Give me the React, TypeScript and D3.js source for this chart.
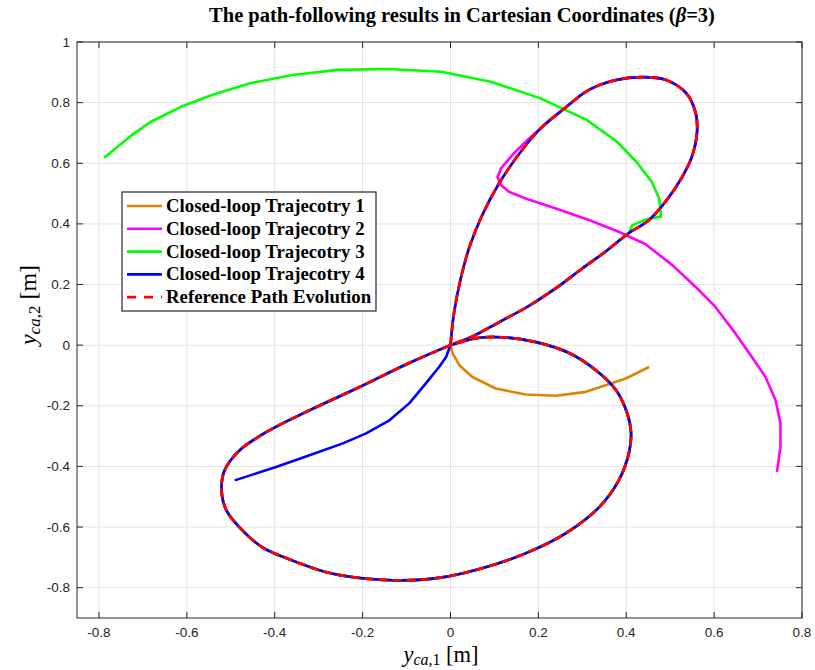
import React from "react";
import * as d3 from "d3";

// reference path (closed, starts at the origin going up the steep branch)
const refPath: [number, number][] = [
  [0, 0], [0.008, 0.106], [0.024, 0.224], [0.043, 0.323], [0.07, 0.422],
  [0.111, 0.535], [0.163, 0.644], [0.208, 0.719], [0.263, 0.785], [0.315, 0.842],
  [0.377, 0.875], [0.436, 0.884], [0.49, 0.875], [0.536, 0.832], [0.558, 0.766],
  [0.561, 0.7], [0.549, 0.62], [0.527, 0.554], [0.497, 0.488], [0.452, 0.413],
  [0.406, 0.37], [0.354, 0.31], [0.299, 0.252], [0.24, 0.188], [0.179, 0.13],
  [0.111, 0.076], [0.049, 0.028], [0, 0], [-0.094, -0.059], [-0.208, -0.139],
  [-0.321, -0.215], [-0.412, -0.281], [-0.48, -0.347], [-0.514, -0.413], [-0.521, -0.479],
  [-0.51, -0.545], [-0.48, -0.601], [-0.428, -0.667], [-0.36, -0.71], [-0.282, -0.749],
  [-0.201, -0.769], [-0.11, -0.776], [-0.019, -0.766], [0.072, -0.736], [0.172, -0.686],
  [0.263, -0.62], [0.338, -0.535], [0.383, -0.446], [0.406, -0.356], [0.411, -0.29],
  [0.402, -0.224], [0.377, -0.149], [0.331, -0.083], [0.27, -0.026], [0.195, 0.01],
  [0.118, 0.026], [0.058, 0.023], [0, 0],
];

// transient parts of each closed-loop trajectory before it joins the path
const traj1Start: [number, number][] = [
  [0.452, -0.072], [0.399, -0.11], [0.353, -0.132], [0.308, -0.154], [0.24, -0.167],
  [0.171, -0.163], [0.103, -0.143], [0.05, -0.105], [0.02, -0.066], [0.005, -0.027],
];
const traj2Start: [number, number][] = [
  [0.743, -0.418], [0.751, -0.336], [0.751, -0.258], [0.74, -0.182], [0.717, -0.105],
  [0.686, -0.039], [0.649, 0.038], [0.603, 0.126], [0.558, 0.192], [0.505, 0.264],
  [0.444, 0.333], [0.383, 0.374], [0.315, 0.413], [0.24, 0.451], [0.171, 0.484],
  [0.133, 0.506], [0.115, 0.528], [0.107, 0.555], [0.115, 0.583], [0.145, 0.634],
  [0.179, 0.682],
];
const traj3Start: [number, number][] = [
  [-0.788, 0.618], [-0.725, 0.693], [-0.682, 0.737], [-0.612, 0.787], [-0.543, 0.825],
  [-0.456, 0.864], [-0.36, 0.891], [-0.256, 0.908], [-0.143, 0.911], [-0.021, 0.902],
  [0.092, 0.869], [0.205, 0.814], [0.31, 0.743], [0.379, 0.671], [0.423, 0.605],
  [0.458, 0.539], [0.475, 0.484], [0.479, 0.424], [0.449, 0.416], [0.414, 0.396],
];
const traj4Start: [number, number][] = [
  [-0.491, -0.446], [-0.397, -0.402], [-0.321, -0.363], [-0.245, -0.324], [-0.192, -0.291],
  [-0.139, -0.248], [-0.094, -0.192], [-0.056, -0.126], [-0.026, -0.072], [-0.01, -0.039],
];
// index in refPath where each trajectory joins
const joinIndex = [0, 7, 20, 0];

const legendLabels = [
  "Closed-loop Trajecotry 1",
  "Closed-loop Trajecotry 2",
  "Closed-loop Trajecotry 3",
  "Closed-loop Trajecotry 4",
  "Reference Path Evolution",
];
const colors = ["#dd8400", "#ff00ff", "#00ff00", "#0000ff", "#ff0000"];

const xTicks = [-0.8, -0.6, -0.4, -0.2, 0, 0.2, 0.4, 0.6, 0.8];
const yTicks = [-0.8, -0.6, -0.4, -0.2, 0, 0.2, 0.4, 0.6, 0.8, 1];

const W = 815, H = 670;
const L = 77, R = 802, T = 42, B = 618;

export default function App() {
  const x = d3.scaleLinear().domain([-0.85, 0.8]).range([L, R]);
  const y = d3.scaleLinear().domain([-0.9, 1]).range([B, T]);
  const line = d3.line<[number, number]>()
    .x((d) => x(d[0]))
    .y((d) => y(d[1]))
    .curve(d3.curveCatmullRom.alpha(0.5));
  const rough = d3.line<[number, number]>().x((d) => x(d[0])).y((d) => y(d[1]));

  const starts = [traj1Start, traj2Start, traj3Start, traj4Start];
  const fmt = (v: number) => `${+v.toFixed(1)}`;
  const axisColor = "#262626";
  const tick = 6;
  const serif = "Liberation Serif, Times New Roman";

  return (
    <svg width={W} height={H} style={{ position: "absolute", left: 0, top: 0, background: "#fff" }}>
      <rect x={0} y={0} width={W} height={H} fill="#fff" />
      {/* grid */}
      {xTicks.map((t) => (
        <line key={"gx" + t} x1={x(t)} x2={x(t)} y1={T} y2={B} stroke="#e3e3e3" strokeWidth={1} />
      ))}
      {yTicks.map((t) => (
        <line key={"gy" + t} x1={L} x2={R} y1={y(t)} y2={y(t)} stroke="#e3e3e3" strokeWidth={1} />
      ))}

      {/* trajectories */}
      {starts.map((s, i) => (
        <g key={"tr" + i}>
          <path d={rough(s.concat([refPath[joinIndex[i]]]))!} fill="none" stroke={colors[i]} strokeWidth={2.6} strokeLinejoin="round" />
          <path d={line(refPath.slice(joinIndex[i]))!} fill="none" stroke={colors[i]} strokeWidth={2.6} strokeLinejoin="round" />
        </g>
      ))}
      <path d={line(refPath)!} fill="none" stroke={colors[4]} strokeWidth={2.8} strokeDasharray="9,5" />

      {/* box + ticks */}
      <rect x={L} y={T} width={R - L} height={B - T} fill="none" stroke={axisColor} strokeWidth={1} />
      {xTicks.map((t) => (
        <g key={"tx" + t}>
          <line x1={x(t)} x2={x(t)} y1={B} y2={B - tick} stroke={axisColor} />
          <line x1={x(t)} x2={x(t)} y1={T} y2={T + tick} stroke={axisColor} />
          <text x={x(t)} y={B + 19} textAnchor="middle" fontFamily="Liberation Sans, Arial" fontSize={13.5} fill={axisColor}>
            {fmt(t)}
          </text>
        </g>
      ))}
      {yTicks.map((t) => (
        <g key={"ty" + t}>
          <line x1={L} x2={L + tick} y1={y(t)} y2={y(t)} stroke={axisColor} />
          <line x1={R} x2={R - tick} y1={y(t)} y2={y(t)} stroke={axisColor} />
          <text x={L - 7} y={y(t) + 4.5} textAnchor="end" fontFamily="Liberation Sans, Arial" fontSize={13.5} fill={axisColor}>
            {fmt(t)}
          </text>
        </g>
      ))}

      {/* title */}
      <text x={462} y={22} textAnchor="middle" fontFamily={serif} fontWeight="bold" fontSize={20.5} fill="#000">
        The path-following results in Cartesian Coordinates (<tspan fontStyle="italic">β</tspan>=3)
      </text>

      {/* axis labels */}
      <text x={441} y={662} textAnchor="middle" fontFamily={serif} fontSize={22.5} fill="#000">
        <tspan fontStyle="italic">y</tspan>
        <tspan fontStyle="italic" fontSize={16} dy={3}>ca</tspan>
        <tspan fontSize={16}>,1</tspan>
        <tspan dy={-3}> [m]</tspan>
      </text>
      <text transform="translate(36,305) rotate(-90)" textAnchor="middle" fontFamily={serif} fontSize={24} fill="#000">
        <tspan fontStyle="italic">y</tspan>
        <tspan fontStyle="italic" fontSize={17} dy={4}>ca</tspan>
        <tspan fontSize={17}>,2</tspan>
        <tspan dy={-4}> [m]</tspan>
      </text>

      {/* legend */}
      <g>
        <rect x={122} y={192} width={254} height={119} fill="#fff" stroke="#262626" strokeWidth={1.2} />
        {legendLabels.map((lab, i) => {
          const yy = 206 + i * 22.8;
          return (
            <g key={lab}>
              <line x1={127} x2={162} y1={yy} y2={yy} stroke={colors[i]} strokeWidth={i === 4 ? 2.8 : 2.6}
                strokeDasharray={i === 4 ? "9,8" : undefined} />
              <text x={166} y={yy + 6} fontFamily={serif} fontWeight="bold" fontSize={18.8} fill="#000">
                {lab}
              </text>
            </g>
          );
        })}
      </g>
    </svg>
  );
}
